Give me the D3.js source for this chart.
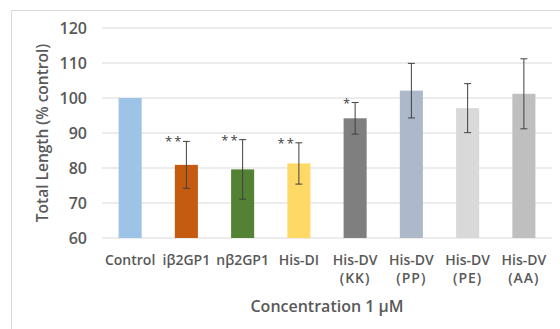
<!DOCTYPE html>
<html>
<head>
<meta charset="utf-8">
<script src="https://cdn.jsdelivr.net/npm/d3@7"></script>
<style>
  body { margin: 0; background: #fff; }
  text { font-family: "Open Sans", "Liberation Sans", sans-serif; fill: #595959; font-weight: 600; }
</style>
</head>
<body>
<svg id="chart"></svg>
<script>
const categories = ["Control", "iβ2GP1", "nβ2GP1", "His-DI", "His-DV|(KK)", "His-DV|(PP)", "His-DV|(PE)", "His-DV|(AA)"];
const values = [100, 80.9, 79.6, 81.3, 94.2, 102.1, 97.1, 101.2];
const errors = [0, 6.7, 8.5, 5.9, 4.5, 7.8, 7.0, 10.0];
const stars = ["", "**", "**", "**", "*", "", "", ""];
const colors = ["#9dc3e6", "#c55a11", "#548235", "#ffd966", "#7f7f7f", "#adb9ca", "#d9d9d9", "#bfbfbf"];
const yTicks = [60, 70, 80, 90, 100, 110, 120];

const W = 560, H = 329;
const margin = { top: 28, right: 8, bottom: 91, left: 102 };
const width = W - margin.left - margin.right;
const height = H - margin.top - margin.bottom;

const svg = d3.select("#chart").attr("width", W).attr("height", H);

// chart frame (only top and left edges visible in the crop)
svg.append("rect")
  .attr("x", 11.5).attr("y", 10.5)
  .attr("width", 600).attr("height", 400)
  .attr("fill", "none")
  .attr("stroke", "#d9d9d9");

const g = svg.append("g").attr("transform", `translate(${margin.left},${margin.top})`);

const x = d3.scaleBand().domain(categories).range([0, width]).paddingInner(0.59).paddingOuter(0.295);
const y = d3.scaleLinear().domain([60, 120]).range([height, 0]);

// gridlines
g.selectAll(".grid")
  .data(yTicks)
  .enter()
  .append("line")
  .attr("x1", 0).attr("x2", width)
  .attr("y1", d => y(d)).attr("y2", d => y(d))
  .attr("stroke", "#d9d9d9").attr("stroke-width", 1);

// y tick labels
g.selectAll(".ytick")
  .data(yTicks)
  .enter()
  .append("text")
  .attr("x", -15)
  .attr("y", d => y(d))
  .attr("dy", "0.36em")
  .attr("text-anchor", "end")
  .style("font-size", "16px")
  .text(d => d);

// bars
g.selectAll(".bar")
  .data(categories)
  .enter()
  .append("rect")
  .attr("x", d => x(d))
  .attr("y", (d, i) => y(values[i]))
  .attr("width", x.bandwidth())
  .attr("height", (d, i) => height - y(values[i]))
  .attr("fill", (d, i) => colors[i]);

// error bars
const err = g.selectAll(".err")
  .data(categories.filter((d, i) => errors[i] > 0))
  .enter()
  .append("g")
  .attr("stroke", "#404040")
  .attr("stroke-width", 1);

const idx = d => categories.indexOf(d);
const cx = d => x(d) + x.bandwidth() / 2;

err.append("line")
  .attr("x1", cx).attr("x2", cx)
  .attr("y1", d => y(values[idx(d)] + errors[idx(d)]))
  .attr("y2", d => y(values[idx(d)] - errors[idx(d)]));
err.append("line")
  .attr("x1", d => cx(d) - 3.5).attr("x2", d => cx(d) + 3.5)
  .attr("y1", d => y(values[idx(d)] + errors[idx(d)]))
  .attr("y2", d => y(values[idx(d)] + errors[idx(d)]));
err.append("line")
  .attr("x1", d => cx(d) - 3.5).attr("x2", d => cx(d) + 3.5)
  .attr("y1", d => y(values[idx(d)] - errors[idx(d)]))
  .attr("y2", d => y(values[idx(d)] - errors[idx(d)]));

// significance stars
g.selectAll(".star")
  .data(categories.filter((d, i) => stars[i]))
  .enter()
  .append("text")
  .attr("x", d => cx(d) - 3)
  .attr("y", d => y(values[idx(d)] + errors[idx(d)]) + 5)
  .attr("text-anchor", "end")
  .style("font-size", "13px")
  .style("font-weight", "400")
  .style("fill", "#404040")
  .style("letter-spacing", "2px")
  .text(d => stars[idx(d)]);

// x labels
const xl = g.selectAll(".xlab")
  .data(categories)
  .enter()
  .append("text")
  .attr("x", cx)
  .attr("y", height + 27)
  .attr("text-anchor", "middle")
  .style("font-size", "14px");
xl.selectAll("tspan")
  .data(d => d.split("|").map(s => ({ s, c: d })))
  .enter()
  .append("tspan")
  .attr("x", d => cx(d.c))
  .attr("dy", (d, i) => i === 0 ? 0 : "1.3em")
  .style("letter-spacing", (d, i) => i === 0 ? "0px" : "1px")
  .text(d => d.s);

// axis titles
g.append("text")
  .attr("x", width / 2)
  .attr("y", height + 74)
  .attr("text-anchor", "middle")
  .style("font-size", "16px")
  .text("Concentration 1 μM");

g.append("text")
  .attr("transform", `translate(${43 - margin.left},${133 - margin.top}) rotate(-90)`)
  .attr("dy", "0.35em")
  .attr("text-anchor", "middle")
  .style("font-size", "15.5px")
  .text("Total Length (% control)");
</script>
</body>
</html>
